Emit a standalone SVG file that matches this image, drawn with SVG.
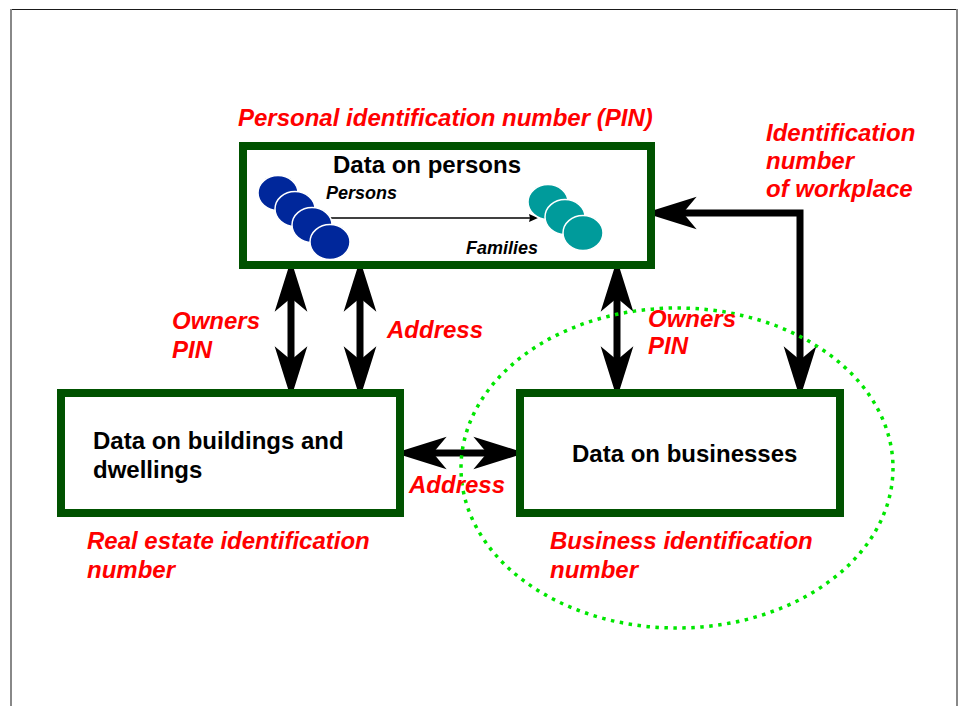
<svg xmlns="http://www.w3.org/2000/svg" width="959" height="706" viewBox="0 0 959 706">
  <defs>
    <style>
      .box { fill: #ffffff; stroke: #005200; stroke-width: 8; }
      .link { fill: none; stroke: #000000; stroke-width: 7; stroke-linejoin: miter; }
      .thin { fill: none; stroke: #000000; stroke-width: 1.5; }
      .title { font-family: "Liberation Sans", Arial, sans-serif; font-weight: bold; font-size: 24px; fill: #000000; }
      .sub { font-family: "Liberation Sans", Arial, sans-serif; font-weight: bold; font-style: italic; font-size: 18px; fill: #000000; }
      .key { font-family: "Liberation Sans", Arial, sans-serif; font-weight: bold; font-style: italic; font-size: 24px; fill: #ff0000; }
      .person { fill: #00279b; stroke: #ffffff; stroke-width: 1.5; }
      .family { fill: #009b9b; stroke: #ffffff; stroke-width: 1.5; }
    </style>
    <!-- heavy double-ended arrowhead; reference point sits at the notch -->
    <marker id="head" markerUnits="userSpaceOnUse" markerWidth="60" markerHeight="40"
            viewBox="-12 -14 44 28" refX="0" refY="0" orient="auto-start-reverse" overflow="visible">
      <path d="M28,0 L-10,-12 L0,0 L-10,12 Z" fill="#000000"/>
    </marker>
    <marker id="small" markerUnits="userSpaceOnUse" markerWidth="14" markerHeight="12"
            viewBox="-2 -6 12 12" refX="0" refY="0" orient="auto" overflow="visible">
      <path d="M8,0 L-1,-4 L0,0 L-1,4 Z" fill="#000000"/>
    </marker>
  </defs>

  <rect width="959" height="706" fill="#ffffff"/>

  <!-- page frame -->
  <g id="frame">
    <line x1="10" y1="9.5" x2="957" y2="9.5" stroke="#1a1a1a" stroke-width="1"/>
    <line x1="11" y1="9" x2="11" y2="706" stroke="#888888" stroke-width="2"/>
    <line x1="957" y1="9" x2="957" y2="706" stroke="#888888" stroke-width="2"/>
  </g>

  <!-- connectors -->
  <g id="connectors">
    <path class="link" d="M291,298 V360" marker-start="url(#head)" marker-end="url(#head)"/>
    <path class="link" d="M360,298 V360" marker-start="url(#head)" marker-end="url(#head)"/>
    <path class="link" d="M617,298 V360" marker-start="url(#head)" marker-end="url(#head)"/>
    <path class="link" d="M433,453 H487" marker-start="url(#head)" marker-end="url(#head)"/>
    <path class="link" d="M683,213 H800 V360" marker-start="url(#head)" marker-end="url(#head)"/>
  </g>

  <!-- persons register -->
  <g id="node-persons">
    <rect class="box" x="243" y="146" width="408" height="119"/>
    <text class="title" x="333" y="173">Data on persons</text>
    <line class="thin" x1="320" y1="218" x2="530" y2="218" marker-end="url(#small)"/>
    <ellipse class="person" cx="278" cy="193" rx="20" ry="17.5"/>
    <ellipse class="person" cx="295" cy="209" rx="20" ry="17.5"/>
    <ellipse class="person" cx="312" cy="225" rx="20" ry="17.5"/>
    <ellipse class="person" cx="330" cy="242" rx="20" ry="17.5"/>
    <ellipse class="family" cx="548" cy="202" rx="20" ry="17.5"/>
    <ellipse class="family" cx="565" cy="217" rx="20" ry="17.5"/>
    <ellipse class="family" cx="583" cy="233" rx="20" ry="17.5"/>
    <text class="sub" x="326" y="199">Persons</text>
    <text class="sub" x="466" y="254">Families</text>
  </g>

  <!-- buildings and dwellings register -->
  <g id="node-buildings">
    <rect class="box" x="61" y="393" width="339" height="120"/>
    <text class="title" x="93" y="449">Data on buildings and</text>
    <text class="title" x="93" y="478">dwellings</text>
  </g>

  <!-- business register -->
  <g id="node-businesses">
    <rect class="box" x="520" y="393" width="320" height="120"/>
    <text class="title" x="572" y="462">Data on businesses</text>
  </g>

  <!-- business scope outline -->
  <g id="business-scope">
    <ellipse cx="677" cy="468" rx="216" ry="160" fill="none" stroke="#00e600" stroke-width="3.5" stroke-dasharray="3.5 5.5"/>
  </g>

  <!-- identifier labels -->
  <g id="labels">
    <text class="key" x="238" y="126">Personal identification number (PIN)</text>
    <text class="key" x="766" y="141">Identification</text>
    <text class="key" x="766" y="169">number</text>
    <text class="key" x="766" y="197">of workplace</text>
    <text class="key" x="172" y="329">Owners</text>
    <text class="key" x="172" y="358">PIN</text>
    <text class="key" x="387" y="338">Address</text>
    <text class="key" x="648" y="327">Owners</text>
    <text class="key" x="648" y="354">PIN</text>
    <text class="key" x="409" y="493">Address</text>
    <text class="key" x="87" y="549">Real estate identification</text>
    <text class="key" x="87" y="578">number</text>
    <text class="key" x="550" y="549">Business identification</text>
    <text class="key" x="550" y="578">number</text>
  </g>
</svg>
